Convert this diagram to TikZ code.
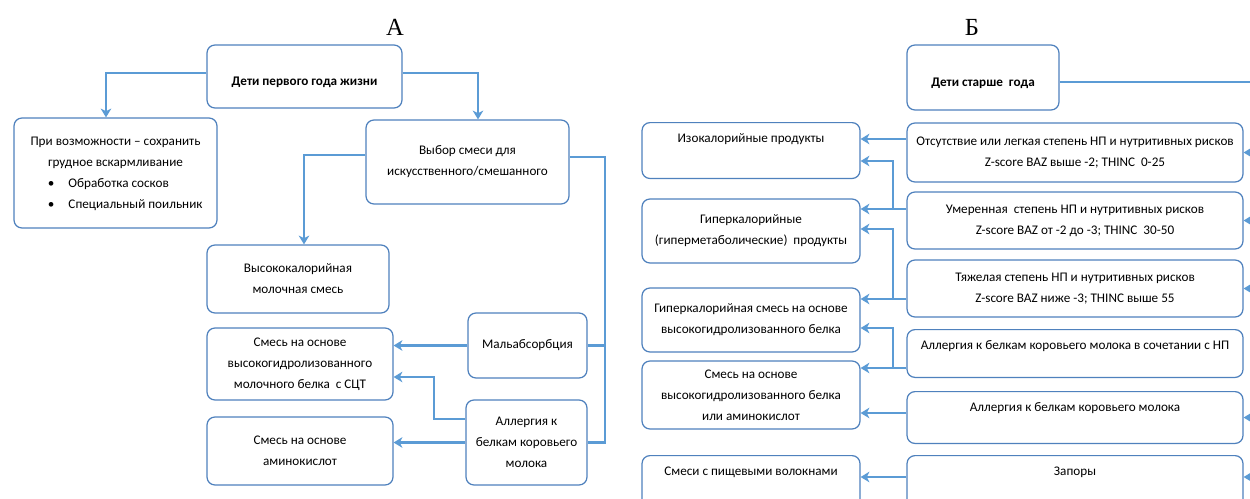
\documentclass[tikz,border=0pt]{standalone}
\usepackage{fontspec}
\setmainfont{Carlito}
\newfontfamily\ttlfont{Liberation Serif}
\usetikzlibrary{arrows.meta}
\definecolor{boxblue}{RGB}{79,129,189}
\definecolor{lineblue}{RGB}{91,155,213}

\begin{document}
\begin{tikzpicture}
  [
    x=0.02cm, y=-0.02cm,
    box/.style={rectangle, rounded corners=4.5pt, draw=boxblue, line width=0.7pt, fill=white, align=center, inner sep=2pt, font=\fontsize{7.5}{11.9}\selectfont},
    boxb/.style={box, text height=12pt, font=\fontsize{7.5}{11.9}\selectfont\bfseries},
    topbox/.style={box, anchor=north, inner ysep=3pt, text height=8.4pt},
    link/.style={draw=lineblue, line width=1.2pt},
    arr/.style={link, -{Stealth[length=5pt, width=6pt, inset=1.5pt]}},
    ttl/.style={font=\ttlfont\fontsize{14}{16}\selectfont}
  ]
  \useasboundingbox (0,0) rectangle (1250,498);

  \node[ttl] (ta) at (395,27) {А};
  \node[ttl] (tb) at (972,27) {Б};

  % А: first year
  \node[boxb, minimum width=3.9cm, minimum height=1.26cm] (d1) at (304.5,76.5) {Дети первого года жизни};
  \node[box, minimum width=4.06cm, minimum height=2.2cm] (pv) at (115.5,173) {\begin{tabular}{@{}c@{}}При возможности – сохранить\\ грудное вскармливание\\ \multicolumn{1}{@{}l@{}}{\hspace{11pt}\textbullet\hspace{8pt}Обработка сосков}\\ \multicolumn{1}{@{}l@{}}{\hspace{11pt}\textbullet\hspace{8pt}Специальный поильник}\end{tabular}};
  \node[box, minimum width=4.06cm, minimum height=1.68cm] (vs) at (467.5,162) {Выбор смеси для\\ искусственного/смешанного};
  \node[box, minimum width=3.64cm, minimum height=1.36cm] (hk) at (298,279) {Высококалорийная\\ молочная смесь};
  \node[box, minimum width=3.72cm, minimum height=1.44cm] (st) at (300,364) {Смесь на основе\\ высокогидролизованного\\ молочного белка\ \ с СЦТ};
  \node[box, minimum width=3.72cm, minimum height=1.36cm] (am) at (300,451) {Смесь на основе\\ аминокислот};
  \node[box, minimum width=2.38cm, minimum height=1.3cm] (ma) at (527.5,345.5) {Мальабсорбция};
  \node[box, minimum width=2.42cm, minimum height=1.7cm] (al) at (526.5,442.5) {Аллергия к\\ белкам коровьего\\ молока};

  \coordinate (c1) at (106,73);
  \coordinate (c2) at (478,73);
  \coordinate (c3) at (304,155);
  \coordinate (c4) at (605,157);
  \coordinate (c5) at (605,442.5);
  \coordinate (c6) at (434,419);
  \coordinate (c7) at (434,377);

  \draw[arr] (d1.west |- c1) -- (c1) -- (c1 |- pv.north);
  \draw[arr] (d1.east |- c2) -- (c2) -- (c2 |- vs.north);
  \draw[arr] (vs.west |- c3) -- (c3) -- (c3 |- hk.north);
  \draw[link] (vs.east |- c4) -- (c4) -- (c5) -- (al.east);
  \draw[link] (ma.east) -- (ma.east -| c4);
  \draw[arr] (ma.west) -- (ma.west -| st.east);
  \draw[arr] (al.west |- c6) -- (c6) -- (c7) -- (c7 -| st.east);
  \draw[arr] (al.west) -- (al.west -| am.east);

  % Б: older children
  \node[boxb, minimum width=3.04cm, minimum height=1.3cm] (d2) at (983,77.5) {Дети старше\ \ года};

  \node[topbox, minimum width=4.36cm, text depth=17.4pt] (iz) at (751,122) {Изокалорийные продукты};
  \node[box, minimum width=4.36cm, minimum height=1.28cm] (gp) at (751,231) {Гиперкалорийные\\ (гиперметаболические)\ \ продукты};
  \node[box, minimum width=4.36cm, minimum height=1.28cm] (gs) at (751,320) {Гиперкалорийная смесь на основе\\ высокогидролизованного белка};
  \node[box, minimum width=4.36cm, minimum height=1.36cm] (sa) at (751,395) {Смесь на основе\\ высокогидролизованного белка\\ или аминокислот};
  \node[topbox, minimum width=4.36cm, text depth=19.6pt] (sv) at (751,455) {Смеси с пищевыми волокнами};

  \node[box, minimum width=6.72cm, minimum height=1.18cm] (ot) at (1075,152.5) {Отсутствие или легкая степень НП и нутритивных рисков\\ Z-score BAZ выше -2; THINC\ \ 0-25};
  \node[box, minimum width=6.72cm, minimum height=1.14cm] (um) at (1075,220.5) {Умеренная\ \ степень НП и нутритивных рисков\\ Z-score BAZ от -2 до -3; THINC\ \ 30-50};
  \node[box, minimum width=6.72cm, minimum height=1.14cm] (tj) at (1075,288.5) {Тяжелая степень НП и нутритивных рисков\\ Z-score BAZ ниже -3; THINC выше 55};
  \node[topbox, minimum width=6.72cm, text depth=12.8pt] (an) at (1075,329) {Аллергия к белкам коровьего молока в сочетании с НП};
  \node[topbox, minimum width=6.72cm, text depth=15.1pt] (ab) at (1075,391) {Аллергия к белкам коровьего молока};
  \node[topbox, minimum width=6.72cm, text depth=19.6pt] (zp) at (1075,455) {Запоры};

  \coordinate (j0) at (893,139);
  \coordinate (j1) at (893,161);
  \coordinate (j2) at (893,209);
  \coordinate (j3) at (893,229);
  \coordinate (j4) at (893,299);
  \coordinate (j5) at (893,328);
  \coordinate (j6) at (893,368);
  \coordinate (j7) at (893,413);
  \coordinate (j8) at (893,477);
  \coordinate (e0) at (1256,82);
  \coordinate (e1) at (1256,477);

  \draw[arr] (ot.west |- j0) -- (j0 -| iz.east);
  \draw[arr] (um.west |- j2) -- (j2 -| gp.east);
  \draw[arr] (j2) -- (j1) -- (j1 -| iz.east);
  \draw[arr] (tj.west |- j4) -- (j4 -| gs.east);
  \draw[arr] (j4) -- (j3) -- (j3 -| gp.east);
  \draw[arr] (an.west |- j6) -- (j6 -| sa.east);
  \draw[arr] (j6) -- (j5) -- (j5 -| gs.east);
  \draw[arr] (ab.west |- j7) -- (j7 -| sa.east);
  \draw[arr] (zp.west |- j8) -- (j8 -| sv.east);

  \draw[link] (d2.east |- e0) -- (e0) -- (e1);
  \draw[arr] (e0 |- ot.east) -- (ot.east);
  \draw[arr] (e0 |- um.east) -- (um.east);
  \draw[arr] (e0 |- tj.east) -- (tj.east);
  \draw[arr] (e0 |- ab.east) -- (ab.east);
  \draw[arr] (e0 |- j8) -- (zp.east |- j8);
\end{tikzpicture}
\end{document}
